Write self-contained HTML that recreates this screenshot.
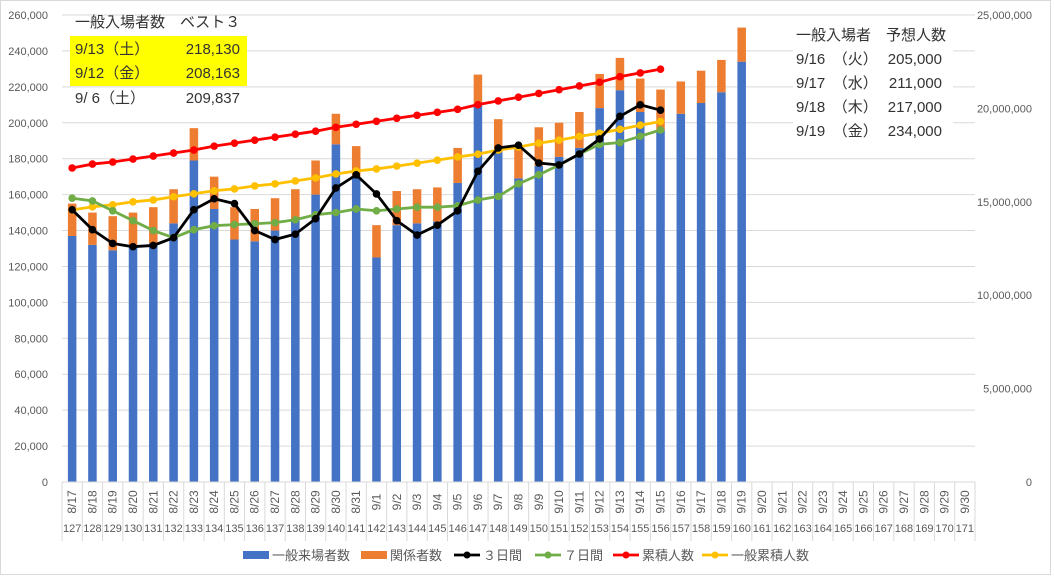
<!DOCTYPE html>
<html><head><meta charset="utf-8"><style>
body{margin:0;background:#fff;}
svg{display:block;font-family:"Liberation Sans","Noto Sans CJK JP",sans-serif;}
</style></head><body>
<svg id="c" width="1054" height="577" viewBox="0 0 1054 577">
<rect x="0.5" y="0.5" width="1050" height="574" fill="#fff" stroke="#d9d9d9"/>
<g id="grid"></g><g id="bars"></g><g id="lines"></g><g id="axes"></g>
<g>
<rect x="70" y="36" width="177" height="50" fill="#ffff00"/>
<text x="75" y="27" font-size="15" fill="#333">一般入場者数　ベスト３</text>
<text x="75" y="54" font-size="15" fill="#333">9/13（土）</text><text x="240" y="54" font-size="15" fill="#333" text-anchor="end">218,130</text>
<text x="75" y="78" font-size="15" fill="#333">9/12（金）</text><text x="240" y="78" font-size="15" fill="#333" text-anchor="end">208,163</text>
<text x="75" y="103" font-size="15" fill="#333">9/ 6（土）</text><text x="240" y="103" font-size="15" fill="#333" text-anchor="end">209,837</text>
</g>
<g>
<rect x="793" y="20" width="160" height="125" fill="#fff"/>
<text x="796" y="40" font-size="15" fill="#333">一般入場者　予想人数</text>
<text x="796" y="64" font-size="15" fill="#333">9/16　（火）</text><text x="942" y="64" font-size="15" fill="#333" text-anchor="end">205,000</text>
<text x="796" y="88" font-size="15" fill="#333">9/17　（水）</text><text x="942" y="88" font-size="15" fill="#333" text-anchor="end">211,000</text>
<text x="796" y="112" font-size="15" fill="#333">9/18　（木）</text><text x="942" y="112" font-size="15" fill="#333" text-anchor="end">217,000</text>
<text x="796" y="136" font-size="15" fill="#333">9/19　（金）</text><text x="942" y="136" font-size="15" fill="#333" text-anchor="end">234,000</text>
</g>
<g id="legend"></g>
</svg>
<script>
const dates=["8/17","8/18","8/19","8/20","8/21","8/22","8/23","8/24","8/25","8/26","8/27","8/28","8/29","8/30","8/31","9/1","9/2","9/3","9/4","9/5","9/6","9/7","9/8","9/9","9/10","9/11","9/12","9/13","9/14","9/15","9/16","9/17","9/18","9/19","9/20","9/21","9/22","9/23","9/24","9/25","9/26","9/27","9/28","9/29","9/30"];
const dayNums=[127,128,129,130,131,132,133,134,135,136,137,138,139,140,141,142,143,144,145,146,147,148,149,150,151,152,153,154,155,156,157,158,159,160,161,162,163,164,165,166,167,168,169,170,171];
const general=[137000,132000,129000,131000,133000,144000,179000,152000,135000,134000,140000,146000,160000,188000,170000,125000,143000,144000,145000,166500,209837,183600,169000,176000,181000,186000,208163,218130,206000,196000,205000,211000,217000,234000];
const related=[18000,18000,19000,19000,20000,19000,18000,18000,18000,18000,18000,17000,19000,17000,17000,18000,19000,19000,19000,19500,17000,18400,17000,21500,19000,20000,19000,18000,18600,22500,18000,18000,18000,19000];
const avg3=[151600,140500,132800,131000,131700,136000,151600,157700,155000,140000,135000,138000,146600,163700,171000,160400,145500,137500,143000,151000,173000,186000,187500,177600,176500,182600,191000,203600,210000,207000];
const avg7=[158000,156500,151000,145500,140000,136000,140500,142700,143300,143800,144400,146000,148800,150000,152000,151000,152000,153000,153000,153800,157000,159000,166000,171000,176500,182600,188000,189000,192500,196000];
const cumTotal=[16.81,17.02,17.13,17.29,17.45,17.61,17.77,17.98,18.14,18.30,18.46,18.62,18.78,18.99,19.15,19.31,19.47,19.63,19.79,19.95,20.20,20.40,20.60,20.80,21.00,21.20,21.40,21.70,21.90,22.10];
const cumGeneral=[14.57,14.73,14.84,15.00,15.10,15.27,15.43,15.59,15.69,15.85,15.96,16.12,16.28,16.49,16.65,16.76,16.91,17.07,17.23,17.40,17.55,17.77,17.93,18.14,18.30,18.50,18.67,18.88,19.10,19.30];
const leftTicks=[0,20000,40000,60000,80000,100000,120000,140000,160000,180000,200000,220000,240000,260000];
const rightTicks=[0,5,10,15,20,25];
const rightLabels=["0","5,000,000","10,000,000","15,000,000","20,000,000","25,000,000"];

const NS="http://www.w3.org/2000/svg";
const X0=62,X1=975,TOP=15,BOT=482;
const cw=(X1-X0)/dates.length;
const xc=i=>X0+(i+0.5)*cw;
const yL=v=>BOT-v/260000*(BOT-TOP);
const yR=v=>BOT-v/25*(BOT-TOP);
function mk(tag,attrs,parent){const e=document.createElementNS(NS,tag);for(const k in attrs)e.setAttribute(k,attrs[k]);parent.appendChild(e);return e;}
const grid=document.getElementById('grid'),bars=document.getElementById('bars'),lines=document.getElementById('lines'),axes=document.getElementById('axes'),legend=document.getElementById('legend');
leftTicks.forEach((t,i)=>{
  if(t>0){const g=mk('line',{x1:X0,x2:X1,y1:yL(t),y2:yL(t),stroke:'#d9d9d9'},grid);
  
  }
  const tx=mk('text',{x:48,y:yL(t)+4,'font-size':11,fill:'#595959','text-anchor':'end'},axes);tx.textContent=t.toLocaleString('en-US');
  
  
});
rightTicks.forEach((t,i)=>{
  const tx=mk('text',{x:1032,y:yR(t)+4,'font-size':11,fill:'#595959','text-anchor':'end'},axes);tx.textContent=rightLabels[i];
  
  
});
mk('line',{x1:X0,x2:X1,y1:BOT,y2:BOT,stroke:'#d9d9d9'},axes);
dates.forEach((d,i)=>{
  const s=mk('line',{x1:X0+i*cw,x2:X0+i*cw,y1:BOT,y2:541,stroke:'#d9d9d9'},axes);
  
  
  const t=mk('text',{transform:`translate(${xc(i)+4},502) rotate(-90)`,'font-size':12,fill:'#595959','text-anchor':'middle'},axes);t.textContent=d;
  
  
  const n=mk('text',{x:xc(i),y:532,'font-size':11,fill:'#595959','text-anchor':'middle'},axes);n.textContent=dayNums[i];
  
  
});
mk('line',{x1:X1,x2:X1,y1:BOT,y2:541,stroke:'#d9d9d9'},axes);
const bw=cw*0.42;
general.forEach((v,i)=>{
  const b=mk('rect',{x:xc(i)-bw/2,y:yL(v),width:bw,height:BOT-yL(v),fill:'#4472c4'},bars);
  
  
  const r=related[i];
  const o=mk('rect',{x:xc(i)-bw/2,y:yL(v+r),width:bw,height:yL(v)-yL(v+r),fill:'#ed7d31'},bars);
  
  
});
function series(arr,yf,col,name){
  const pts=arr.map((v,i)=>xc(i)+','+yf(v)).join(' ');
  const p=mk('polyline',{points:pts,fill:'none',stroke:col,'stroke-width':2.8},lines);
  
  
  arr.forEach((v,i)=>{const c=mk('circle',{cx:xc(i),cy:yf(v),r:3.8,fill:col},lines);
  
  });
}
series(cumTotal,yR,'#ff0000','cumulative-total');
series(cumGeneral,yR,'#ffc000','cumulative-general');
series(avg7,yL,'#70ad47','avg-7day');
series(avg3,yL,'#000000','avg-3day');
const leg=[["一般来場者数",'#4472c4',0,243],["関係者数",'#ed7d31',0,361],["３日間",'#000',1,454],["７日間",'#70ad47',1,535],["累積人数",'#ff0000',1,613],["一般累積人数",'#ffc000',1,702]];
leg.forEach(l=>{
  const g=mk('g',{},legend);
  
  
  if(l[2]===0){mk('rect',{x:l[3],y:551,width:26,height:8,fill:l[1]},g);}
  else{mk('line',{x1:l[3],x2:l[3]+26,y1:555,y2:555,stroke:l[1],'stroke-width':2.8},g);mk('circle',{cx:l[3]+13,cy:555,r:3.5,fill:l[1]},g);}
  const t=mk('text',{x:l[3]+29,y:560,'font-size':13,fill:'#595959'},g);t.textContent=l[0];
});
</script>
</body></html>
